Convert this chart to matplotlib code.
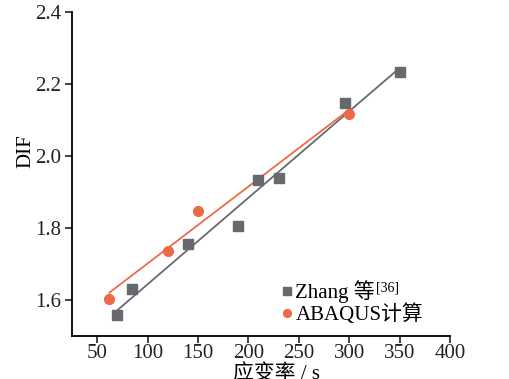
import numpy as np
import matplotlib
matplotlib.use("Agg")
import matplotlib.pyplot as plt

plt.rcParams["font.family"] = ["Liberation Serif", "Noto Sans CJK SC"]

# Zhang 等 test data
zhang_rate = [70, 85, 140, 190, 210, 230, 296, 350]
zhang_dif = [1.558, 1.630, 1.756, 1.806, 1.933, 1.938, 2.146, 2.234]

# ABAQUS results
abaqus_rate = [62, 120, 150, 300]
abaqus_dif = [1.602, 1.736, 1.847, 2.116]

GRAY = "#68696e"
ORANGE = "#ee6a47"

fig = plt.figure(figsize=(5.09, 3.79), dpi=100)
ax = fig.add_axes([0.1415, 0.1135, 0.7425, 0.855])

# linear fits
for xs, ys, c in [(zhang_rate, zhang_dif, GRAY), (abaqus_rate, abaqus_dif, ORANGE)]:
    k, b = np.polyfit(xs, ys, 1)
    xx = np.array([min(xs), max(xs)])
    ax.plot(xx, k * xx + b, color=c, lw=1.3, zorder=2)

ax.plot(zhang_rate, zhang_dif, "s", color=GRAY, ms=6.5, ls="none",
        label="Zhang 等", zorder=3)
ax.plot(abaqus_rate, abaqus_dif, "o", color=ORANGE, ms=7, ls="none",
        label="ABAQUS计算", zorder=3)

ax.set_xlim(25, 400)
ax.set_ylim(1.5, 2.4)
ax.set_xticks([50, 100, 150, 200, 250, 300, 350, 400])
ax.set_yticks([1.6, 1.8, 2.0, 2.2, 2.4])
ax.set_yticklabels(["1.6", "1.8", "2.0", "2.2", "2.4"])

for s in ["top", "right"]:
    ax.spines[s].set_visible(False)
for s in ["left", "bottom"]:
    ax.spines[s].set_linewidth(1.3)
ax.tick_params(direction="out", length=5, width=1.2, labelsize=15,
               colors="#222222", pad=3)
ax.tick_params(axis="x", pad=1)

ax.set_xlabel("应变率 / s", fontsize=15)
ax.xaxis.set_label_coords(0.54, -0.118)
ax.xaxis.label.set_va("center")
ax.set_ylabel("DIF", fontsize=15)
ax.yaxis.set_label_coords(-0.122, 0.571)
ax.yaxis.label.set_va("center")

leg = ax.legend(loc="lower left", bbox_to_anchor=(0.547, 0.034), frameon=False,
                fontsize=15, handletextpad=0.0, handlelength=0.8,
                borderaxespad=0, borderpad=0, labelspacing=0.05, markerscale=0.8)

# superscript reference mark after "Zhang 等"
fig.canvas.draw()
bb = leg.get_texts()[0].get_window_extent(fig.canvas.get_renderer())
fig.text(bb.x1 + 1, bb.y1 - 1, "[36]", fontsize=10, ha="left", va="top",
         transform=None)

fig.savefig("out.png", dpi=100)
